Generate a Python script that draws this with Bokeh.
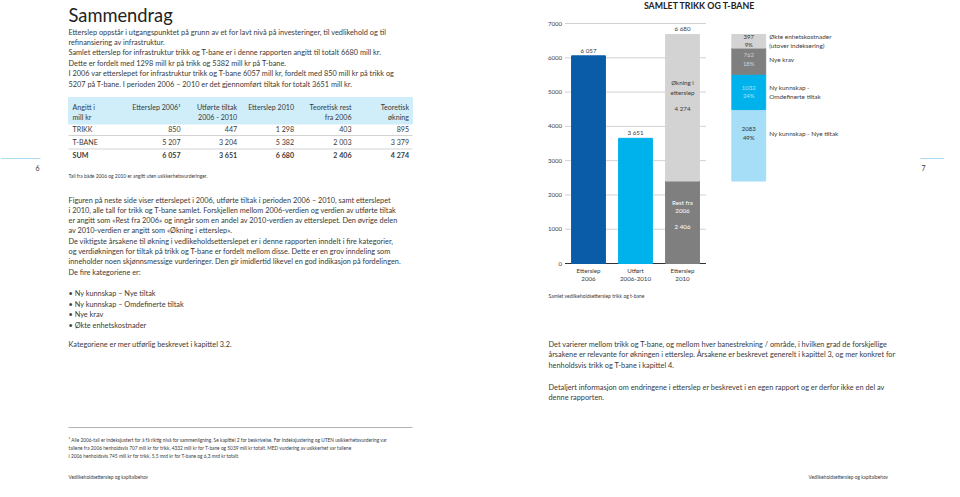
from bokeh.plotting import figure
from bokeh.models import Range1d
from bokeh.embed import file_html
from bokeh.resources import INLINE
from bokeh.core.properties import value

# ---------------- data ----------------
bar_categories = [["Etterslep", "2006"], ["Utført", "2006-2010"], ["Etterslep", "2010"]]
etterslep_2006 = 6057
utfort_2006_2010 = 3651
rest_fra_2006 = 2406
okning_i_etterslep = 4274
etterslep_2010 = 6680

breakdown_labels = [["Ny kunnskap - Nye tiltak"],
                    ["Ny kunnskap -", "Omdefinerte tiltak"],
                    ["Nye krav"],
                    ["Økte enhetskostnader", "(utover indeksering)"]]
breakdown_values = [2083, 1032, 762, 397]
breakdown_pct = [49, 24, 18, 9]

y_ticks = [0, 1000, 2000, 3000, 4000, 5000, 6000, 7000]

table_header = [["Angitt i", "mill kr"], ["Etterslep 2006¹"], ["Utførte tiltak", "2006 - 2010"],
                ["Etterslep 2010"], ["Teoretisk rest", "fra 2006"], ["Teoretisk", "økning"]]
table_rows = ["TRIKK", "T-BANE", "SUM"]
trikk = [850, 447, 1298, 403, 895]
tbane = [5207, 3204, 5382, 2003, 3379]
summ = [6057, 3651, 6680, 2406, 4274]

para1 = ["Etterslep oppstår i utgangspunktet på grunn av et for lavt nivå på investeringer, til vedlikehold og til",
         "refinansiering av infrastruktur.",
         "Samlet etterslep for infrastruktur trikk og T-bane er i denne rapporten angitt til totalt 6680 mill kr.",
         "Dette er fordelt med 1298 mill kr på trikk og 5382 mill kr på T-bane.",
         "I 2006 var etterslepet for infrastruktur trikk og T-bane 6057 mill kr, fordelt med 850 mill kr på trikk og",
         "5207 på T-bane. I perioden 2006 – 2010 er det gjennomført tiltak for totalt 3651 mill kr."]
para2 = ["Figuren på neste side viser etterslepet i 2006, utførte tiltak i perioden 2006 – 2010, samt etterslepet",
         "i 2010, alle tall for trikk og T-bane samlet. Forskjellen mellom 2006-verdien og verdien av utførte tiltak",
         "er angitt som «Rest fra 2006» og inngår som en andel av 2010-verdien av etterslepet. Den øvrige delen",
         "av 2010-verdien er angitt som «Økning i etterslep».",
         "De viktigste årsakene til økning i vedlikeholdsetterslepet er i denne rapporten inndelt i fire kategorier,",
         "og verdiøkningen for tiltak på trikk og T-bane er fordelt mellom disse. Dette er en grov inndeling som",
         "inneholder noen skjønnsmessige vurderinger. Den gir imidlertid likevel en god indikasjon på fordelingen.",
         "De fire kategoriene er:"]
bullets = ["• Ny kunnskap – Nye tiltak", "• Ny kunnskap – Omdefinerte tiltak", "• Nye krav", "• Økte enhetskostnader"]
para3 = ["Kategoriene er mer utførlig beskrevet i kapittel 3.2."]
footnote = ["¹ Alle 2006-tall er indeksjustert for å få riktig nivå for sammenligning. Se kapittel 2 for beskrivelse. Før indeksjustering og UTEN usikkerhetsvurdering var",
            "tallene fra 2006 henholdsvis 707 mill kr for trikk, 4332 mill kr for T-bane og 5039 mill kr totalt. MED vurdering av usikkerhet var tallene",
            "i 2006 henholdsvis 745 mill kr for trikk, 5,5 mrd kr for T-bane og 6,3 mrd kr totalt."]
para_r1 = ["Det varierer mellom trikk og T-bane, og mellom hver banestrekning / område, i hvilken grad de forskjellige",
           "årsakene er relevante for økningen i etterslep. Årsakene er beskrevet generelt i kapittel 3, og mer konkret for",
           "henholdsvis trikk og T-bane i kapittel 4."]
para_r2 = ["Detaljert informasjon om endringene i etterslep er beskrevet i en egen rapport og er derfor ikke en del av",
           "denne rapporten."]
footer = "Vedlikeholdsetterslep og kapitalbehov"

# ---------------- styling / layout ----------------
FONT = "Lato"
TXT = "#3a3a3a"
DARK_BLUE = "#0b5ca8"
CYAN = "#00b2ec"
LIGHT_GREY = "#d3d3d3"
DARK_GREY = "#7f7f7f"
LIGHT_BLUE = "#a6ddf7"
BAND = "#cfeefa"
PAGE_LINE = "#a9dcef"
BODY = 7.35

PW, PH = 944, 481          # page coordinate system (pixels)
CH_X0, CH_DX = 588, 47     # chart: pixel x of category 1, pixels per category
CH_Y0, CH_K = 263, 240 / 7000  # chart: pixel y of 0, pixels per unit

p = figure(width=PW, height=PH, x_range=Range1d(0, PW), y_range=Range1d(PH, 0),
           output_backend="svg", toolbar_location=None, min_border=0,
           x_axis_type=None, y_axis_type=None)
p.outline_line_color = None
p.background_fill_color = "white"
p.border_fill_color = "white"
p.extra_x_ranges = {"cx": Range1d(1 - CH_X0 / CH_DX, 1 + (PW - CH_X0) / CH_DX)}
p.extra_y_ranges = {"cy": Range1d(-(PH - CH_Y0) / CH_K, CH_Y0 / CH_K)}
C = dict(x_range_name="cx", y_range_name="cy")


def fmt(v):
    return f"{v:,}".replace(",", " ")


def T(xs, ys, texts, size=BODY, color=TXT, align="left", style="normal", baseline="middle",
      xoff=0, yoff=0, chart=False):
    kw = dict(C) if chart else {}
    p.text(x=xs, y=ys, text=texts, text_font=value(FONT), text_font_size=f"{size}px",
           text_color=color, text_align=align, text_font_style=style, text_baseline=baseline,
           x_offset=xoff, y_offset=yoff, **kw)


def lines(x, y0, dy, texts, **kw):
    T([x] * len(texts), [y0 + i * dy for i in range(len(texts))], texts, **kw)


# ---------------- left page ----------------
T([68], [14.5], ["Sammendrag"], size=18.3, color="#222222", baseline="alphabetic")
lines(68, 31.5, 10.4, para1)

# table
p.quad(left=[68], right=[412], top=[97], bottom=[123.5], color=BAND)
col_right = [180, 236.7, 293.5, 351, 408.5]
T([72, 72], [106.5, 117], table_header[0], size=7.1)
for j, h in enumerate(table_header[1:]):
    T([col_right[j]] * len(h), [106.5, 117][:len(h)], h, size=7.1, align="right")
row_y = [128.5, 141.8, 155]
p.segment(x0=[68, 68], x1=[412, 412], y0=[135, 148.5], y1=[135, 148.5], line_color="#b5b5b5", line_width=0.6)
for r, vals, yy in zip(table_rows, [trikk, tbane, summ], row_y):
    st = "bold" if r == "SUM" else "normal"
    T([72], [yy], [r], size=7.1, style=st)
    T(col_right, [yy] * 5, [fmt(v) for v in vals], size=7.1, align="right", style=st)
T([68], [175], ["Tall fra både 2006 og 2010 er angitt uten usikkerhetsvurderinger."], size=4.9)

lines(68, 199.5, 10.3, para2)
lines(68, 293, 10.6, bullets)
lines(68, 344, 10.4, para3)
p.segment(x0=[68], x1=[412], y0=[427], y1=[427], line_color="#909090", line_width=0.7)
lines(68, 439.5, 8, footnote, size=4.8)
T([68, 808], [476, 476], [footer, footer], size=4.8)

# page numbers
p.segment(x0=[0, 920], x1=[40, PW], y0=[158, 158], y1=[158, 158], line_color=PAGE_LINE, line_width=1.2)
T([37, 923], [167, 167], ["6", "7"], size=7, align="center")

# ---------------- right page: chart ----------------
T([699], [5], ["SAMLET TRIKK OG T-BANE"], size=8.8, style="bold", align="center", color="#222222")

# grid and axis
grid_v = [t for t in y_ticks if t > 0]
p.segment(x0=[0.5] * len(grid_v), x1=[3.5] * len(grid_v), y0=grid_v, y1=grid_v,
          line_color="#bdbdbd", line_width=0.7, **C)
p.segment(x0=[0.5], x1=[3.5], y0=[0], y1=[0], line_color="#333333", line_width=1.2, **C)
T([0.5] * len(y_ticks), y_ticks, [str(t) for t in y_ticks], size=6, align="right", xoff=-3, chart=True)

W = 0.72
p.vbar(x=[1, 2], bottom=[0, 0], top=[etterslep_2006, utfort_2006_2010], width=W,
       color=[DARK_BLUE, CYAN], **C)
p.vbar(x=[3, 3], bottom=[0, rest_fra_2006], top=[rest_fra_2006, rest_fra_2006 + okning_i_etterslep],
       width=W, color=[DARK_GREY, LIGHT_GREY], **C)

# labels above bars
T([1, 2, 3], [etterslep_2006, utfort_2006_2010, etterslep_2010],
  [fmt(etterslep_2006), fmt(utfort_2006_2010), fmt(etterslep_2010)],
  size=6.2, align="center", baseline="bottom", yoff=-2, chart=True)

# labels inside stacked bar
mid_okn = rest_fra_2006 + okning_i_etterslep / 2
T([3], [mid_okn], ["Økning i"], size=6.2, align="center", yoff=-25, chart=True)
T([3], [mid_okn], ["etterslep"], size=6.2, align="center", yoff=-15.5, chart=True)
T([3], [mid_okn], [fmt(okning_i_etterslep)], size=6.2, align="center", yoff=1, chart=True)

mid_rest = rest_fra_2006 / 2
T([3], [mid_rest], ["Rest fra"], size=6.2, align="center", yoff=-20, color="white", chart=True)
T([3], [mid_rest], ["2006"], size=6.2, align="center", yoff=-11, color="white", chart=True)
T([3], [mid_rest], [fmt(rest_fra_2006)], size=6.2, align="center", yoff=4.5, color="white", chart=True)

# category labels under bars
for i, (a, b) in enumerate(bar_categories):
    T([i + 1], [0], [a], size=6.2, align="center", yoff=7, chart=True)
    T([i + 1], [0], [b], size=6.2, align="center", yoff=15, chart=True)

# breakdown column
BX = 4.41
seg_colors = [LIGHT_BLUE, CYAN, DARK_GREY, LIGHT_GREY]
inner_colors = ["#333333", "#a9e3f9", "#d0d0d0", "#333333"]
anchor_frac = [0.67, 0.5, 0.58, 0.55]
bottoms, tops = [], []
acc = rest_fra_2006
for v in breakdown_values:
    bottoms.append(acc)
    acc += v
    tops.append(acc)
p.vbar(x=[BX] * 4, bottom=bottoms, top=tops, width=W, color=seg_colors, **C)
for b, v, pc, col, fr, lab in zip(bottoms, breakdown_values, breakdown_pct, inner_colors, anchor_frac, breakdown_labels):
    yy = b + v * fr
    T([BX], [yy], [str(v)], size=6, align="center", yoff=-4, color=col, chart=True)
    T([BX], [yy], [f"{pc}%"], size=6, align="center", yoff=4, color=col, chart=True)
    if len(lab) == 1:
        T([BX + W / 2], [yy], lab, size=6.4, xoff=3.5, chart=True)
    else:
        T([BX + W / 2], [yy], [lab[0]], size=6.4, xoff=3.5, yoff=-4.5, chart=True)
        T([BX + W / 2], [yy], [lab[1]], size=6.4, xoff=3.5, yoff=4.5, chart=True)

T([548], [295], ["Samlet vedlikeholdsetterslep trikk og t-bane"], size=5)

# right page text
lines(548, 343.5, 10.8, para_r1)
lines(548, 386.5, 10.8, para_r2)

open("out.html", "w").write(file_html(p, INLINE))
